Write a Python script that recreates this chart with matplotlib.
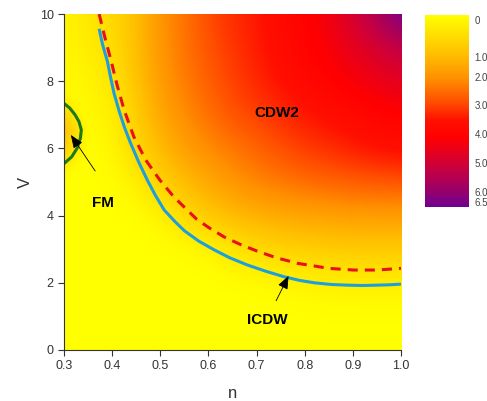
import numpy as np
import matplotlib
matplotlib.use('Agg')
import matplotlib.pyplot as plt
from matplotlib.colors import LinearSegmentedColormap, Normalize

plt.rcParams['font.family'] = ['Liberation Sans', 'DejaVu Sans']

# background field, rows V = 0..10, columns n = 0.30..1.00 step 0.05
field_n = np.round(np.arange(0.30, 1.001, 0.05), 2)
field_V = np.arange(0, 11)
field = np.array([
    [0, 0, 0, 0, 0, 0, 0, 0, 0, 0, 0, 0, 0, 0, 0],
    [0, 0, 0, 0, 0, 0, 0, 0, 0, 0, 0, 0, 0, 0, 0],
    [0, 0, 0, 0, 0, 0, 0, 0, 0.05, 0.12, 0.2, 0.27, 0.3, 0.3, 0.3],
    [0, 0, 0, 0, 0, 0, 0.15, 0.5, 0.75, 0.9, 1.0, 1.05, 1.1, 1.1, 1.1],
    [0, 0, 0, 0, 0.2, 0.8, 1.15, 1.4, 1.6, 1.7, 1.8, 1.85, 1.9, 1.9, 1.9],
    [0, 0, 0.05, 0.3, 1.0, 1.35, 1.75, 2.05, 2.3, 2.45, 2.6, 2.7, 2.8, 2.85, 2.9],
    [0, 0.05, 0.15, 0.85, 1.4, 1.9, 2.2, 2.45, 2.7, 2.95, 3.15, 3.3, 3.45, 3.6, 3.7],
    [0.1, 0.1, 0.3, 1.05, 1.75, 2.2, 2.55, 2.9, 3.1, 3.3, 3.5, 3.65, 3.8, 4.0, 4.1],
    [0.1, 0.2, 0.5, 1.25, 1.95, 2.4, 2.75, 3.1, 3.35, 3.6, 3.85, 4.1, 4.3, 4.5, 4.7],
    [0.15, 0.35, 0.7, 1.35, 2.05, 2.5, 2.9, 3.2, 3.45, 3.75, 4.05, 4.3, 4.6, 4.9, 5.3],
    [0.2, 0.5, 0.8, 1.3, 2.1, 2.5, 3.0, 3.3, 3.5, 3.8, 4.1, 4.4, 5.0, 5.7, 6.5],
])

# small FM bump near n = 0.3, V = 6.5
fm_n = np.array([0.30, 0.32, 0.34, 0.36])
fm_V = np.array([5.0, 5.5, 6.0, 6.5, 7.0, 7.5, 8.0])
fm_field = np.array([
    [0, 0, 0, 0],
    [0.4, 0.2, 0.05, 0],
    [1.0, 0.6, 0.2, 0],
    [1.3, 0.8, 0.3, 0],
    [0.9, 0.5, 0.15, 0],
    [0.3, 0.15, 0, 0],
    [0, 0, 0, 0],
])

# phase boundaries
icdw_n = [0.373, 0.38, 0.39, 0.397, 0.404, 0.414, 0.425, 0.4385, 0.455, 0.473, 0.49, 0.508,
          0.53, 0.55, 0.58, 0.612, 0.645, 0.681, 0.72, 0.757, 0.79, 0.82, 0.855, 0.889,
          0.92, 0.95, 0.975, 1.0]
icdw_V = [9.56, 9.1, 8.6, 8.1, 7.64, 7.14, 6.65, 6.15, 5.6, 5.06, 4.6, 4.17,
          3.83, 3.55, 3.24, 2.98, 2.74, 2.53, 2.34, 2.18, 2.07, 2.0, 1.95, 1.93,
          1.92, 1.93, 1.94, 1.96]
cdw2_n = [0.373, 0.385, 0.398, 0.41, 0.425, 0.445, 0.47, 0.499, 0.528, 0.55, 0.575, 0.6,
          0.632, 0.665, 0.7, 0.74, 0.785, 0.82, 0.85, 0.902, 0.95, 1.0]
cdw2_V = [10.0, 9.3, 8.6, 7.9, 7.14, 6.35, 5.65, 5.06, 4.56, 4.25, 3.9, 3.65,
          3.37, 3.15, 2.95, 2.75, 2.58, 2.5, 2.43, 2.38, 2.38, 2.43]
fm_curve_n = [0.300, 0.312, 0.323, 0.331, 0.336, 0.334, 0.327, 0.316, 0.301]
fm_curve_V = [7.34, 7.2, 7.0, 6.8, 6.55, 6.3, 6.0, 5.75, 5.56]

cbar_ticks = [0.17, 1.42, 2.10, 3.05, 4.03, 5.01, 5.99, 6.33]
cbar_labels = ['0', '1.0', '2.0', '3.0', '4.0', '5.0', '6.0', '6.5']

cmap = LinearSegmentedColormap.from_list('phase', [
    (0.0, '#FFFF00'), (0.2, '#FFC000'), (0.33, '#FF9000'), (0.45, '#FF5000'),
    (0.55, '#FF1000'), (0.64, '#FF0000'), (0.8, '#C80040'), (0.9, '#A00062'),
    (1.0, '#700090')])
norm = Normalize(0, 6.5)

fig = plt.figure(figsize=(4.87, 4.01), dpi=100)
ax = fig.add_axes([0.1314, 0.1272, 0.692, 0.8378])

dn = 0.05
im = ax.imshow(field, origin='lower', cmap=cmap, norm=norm, aspect='auto',
               interpolation='bicubic',
               extent=[field_n[0] - dn / 2, field_n[-1] + dn / 2, -0.5, 10.5])

fm_rgba = cmap(norm(fm_field))
fm_rgba[..., 3] = np.clip(fm_field / 0.2, 0, 1)
ax.imshow(fm_rgba, origin='lower', aspect='auto', interpolation='bilinear',
          extent=[0.29, 0.37, 4.75, 8.25])

ax.plot(icdw_n, icdw_V, color='#1E9EDC', lw=2.2, solid_capstyle='butt')
ax.plot(cdw2_n, cdw2_V, color='#E8101E', lw=2.2, dashes=(3.3, 2.3))
ax.plot(fm_curve_n, fm_curve_V, color='#1B7A1B', lw=2.2)

ax.text(0.742, 7.05, 'CDW2', ha='center', va='center', fontsize=11, fontweight='bold')
ax.text(0.381, 4.375, 'FM', ha='center', va='center', fontsize=11, fontweight='bold')
ax.text(0.722, 0.89, 'ICDW', ha='center', va='center', fontsize=11, fontweight='bold')
arrow = dict(arrowstyle='-|>,head_length=0.8,head_width=0.32', color='black', lw=0.6)
ax.annotate('', xy=(0.311, 6.47), xytext=(0.368, 5.26), arrowprops=arrow)
ax.annotate('', xy=(0.769, 2.28), xytext=(0.738, 1.39), arrowprops=arrow)

ax.set_xlim(0.3, 1.0)
ax.set_ylim(0, 10)
ax.set_xticks(np.round(np.arange(0.3, 1.01, 0.1), 1))
ax.set_xticklabels(['%.1f' % v for v in np.arange(0.3, 1.01, 0.1)])
ax.set_yticks([0, 2, 4, 6, 8, 10])
for s in ['top', 'right']:
    ax.spines[s].set_visible(False)
for s in ['left', 'bottom']:
    ax.spines[s].set_color('#333333')
    ax.spines[s].set_linewidth(0.8)
ax.tick_params(direction='out', length=4, width=0.8, color='#333333',
               labelsize=9, labelcolor='#333333')
ax.set_xlabel('n', fontsize=12, color='#333333', labelpad=10)
ax.set_ylabel('V', fontsize=12, color='#333333', labelpad=5)

cax = fig.add_axes([0.8727, 0.4838, 0.0903, 0.4788])
cb = fig.colorbar(im, cax=cax)
cb.outline.set_visible(False)
cax.invert_yaxis()
cb.set_ticks(cbar_ticks)
cb.set_ticklabels(cbar_labels)
cax.tick_params(length=0, labelsize=7, labelcolor='#444444', pad=4)

fig.savefig('out.png', dpi=100)
